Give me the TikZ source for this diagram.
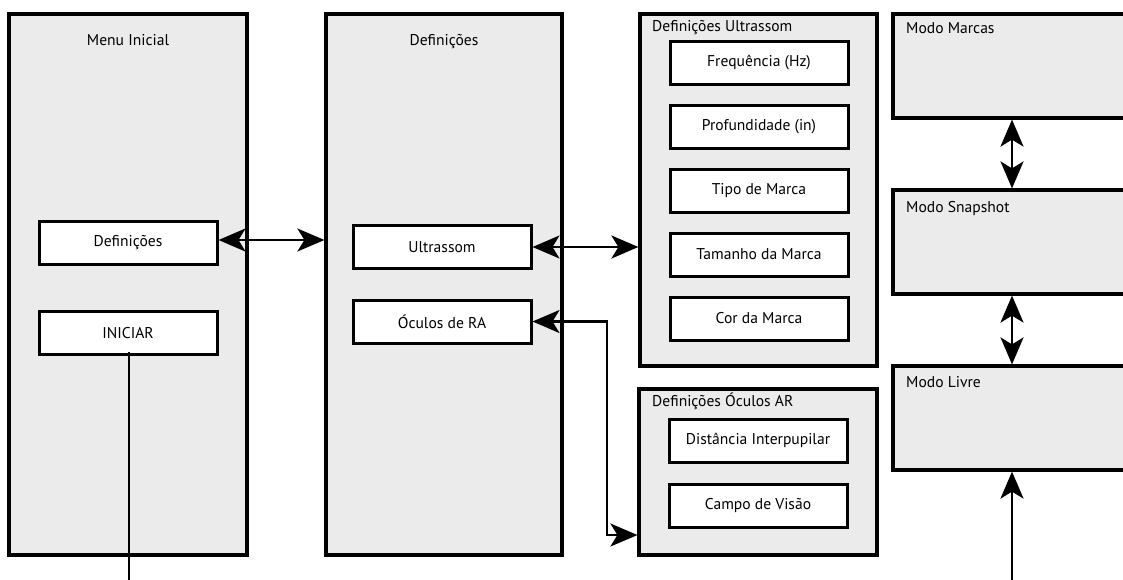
\documentclass[tikz,border=0pt]{standalone}
\usepackage{fontspec}
\setmainfont{PT Sans}
\usetikzlibrary{arrows.meta}
\definecolor{panelgray}{HTML}{EBEBEB}
\begin{document}
\begin{tikzpicture}[x=1pt,y=-1pt,
  panel/.style={draw=black, line width=3.2pt, fill=panelgray, inner sep=0pt},
  item/.style={draw=black, line width=3pt, fill=white, inner sep=0pt,
    minimum width=178pt, minimum height=43pt, font=\fontsize{15.6}{18}\selectfont},
  caption/.style={inner sep=0pt, font=\fontsize{15.6}{18}\selectfont},
  tip/.tip={Stealth[length=27pt,width=23pt,inset=7pt]},
  link/.style={line width=2.3pt},
  twoway/.style={link, tip-tip},
  oneway/.style={link, -tip}
]
\useasboundingbox (0,0) rectangle (1123,579);
\clip (0,0) rectangle (1123,579);

% main menu column
\node[panel, minimum width=238pt, minimum height=541pt] (menu) at (128,284.5) {};
\node[caption, anchor=base] (menutitle) at (128,45) {Menu Inicial};
\node[item] (mdef) at (128,242.5) {Definições};
\node[item] (start) at (128,333) {INICIAR};

% settings column
\node[panel, minimum width=236pt, minimum height=541pt] (defs) at (444,284.5) {};
\node[caption, anchor=base] (defstitle) at (444,45) {Definições};
\node[item] (ultra) at (442,247) {Ultrassom};
\node[item] (glasses) at (442,321.5) {Óculos de RA};

% ultrasound settings
\node[panel, minimum width=237pt, minimum height=352pt] (defus) at (758.5,190) {};
\node[caption, anchor=base west] (defustitle) at (652,31) {Definições Ultrassom};
\node[item] (freq) at (759,62.5) {Frequência (Hz)};
\node[item] (depth) at (759,126.5) {Profundidade (in)};
\node[item] (marktype) at (759,190.5) {Tipo de Marca};
\node[item] (marksize) at (759,254.5) {Tamanho da Marca};
\node[item] (markcolor) at (759,318.5) {Cor da Marca};

% glasses settings
\node[panel, minimum width=238pt, minimum height=166pt] (defoc) at (758,472) {};
\node[caption, anchor=base west] (defoctitle) at (652,406) {Definições Óculos AR};
\node[item] (ipd) at (758,440.5) {Distância Interpupilar};
\node[item] (fov) at (758,505.5) {Campo de Visão};

% modes
\node[panel, minimum width=250pt, minimum height=104pt] (marks) at (1018,66) {};
\node[caption, anchor=base west] (markstitle) at (906,33) {Modo Marcas};
\node[panel, minimum width=250pt, minimum height=104pt] (snap) at (1018,242) {};
\node[caption, anchor=base west] (snaptitle) at (906,212) {Modo Snapshot};
\node[panel, minimum width=250pt, minimum height=104pt] (free) at (1018,418) {};
\node[caption, anchor=base west] (freetitle) at (906,387) {Modo Livre};

% connectors
\coordinate (modeaxis) at (1012,0);
\coordinate (glassbend) at (607,535);
\coordinate (startexit) at (129,590);
\coordinate (freefeed) at (1012,590);

\draw[twoway] (mdef.east |- 0,240) -- (defs.west |- 0,240);
\draw[twoway] (ultra.east) -- (ultra.east -| defus.west);
\draw[twoway] (glasses.east) -| (glassbend) -- (glassbend -| defoc.west);
\draw[twoway] (marks.south -| modeaxis) -- (snap.north -| modeaxis);
\draw[twoway] (snap.south -| modeaxis) -- (free.north -| modeaxis);
\draw[oneway] (freefeed) -- (free.south -| freefeed);
\draw[link] ([yshift=4pt]start.south -| startexit) -- (startexit);
\end{tikzpicture}
\end{document}
